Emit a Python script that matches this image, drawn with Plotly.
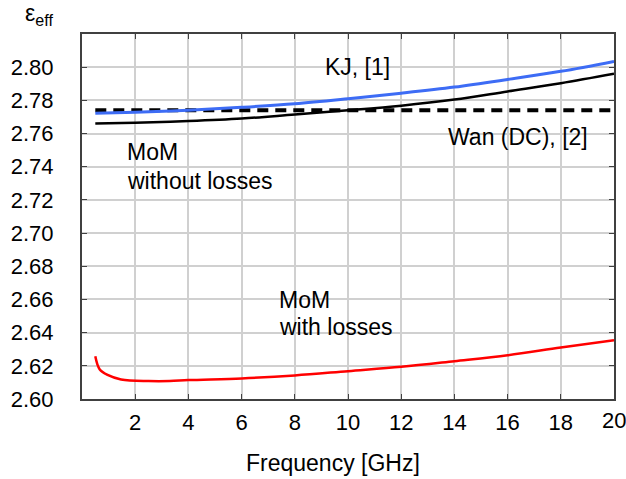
import plotly.graph_objects as go

freq_kj = [0.5, 2, 4, 6, 8, 10, 12, 14, 16, 18, 20]
eps_kj = [2.7722, 2.7728, 2.7740, 2.7758, 2.7780, 2.7810, 2.7843, 2.7880, 2.7926, 2.7975, 2.8035]

freq_mom = [0.5, 2, 4, 6, 8, 10, 12, 14, 16, 18, 20]
eps_mom = [2.7660, 2.7665, 2.7675, 2.7690, 2.7715, 2.7740, 2.7768, 2.7805, 2.7854, 2.7903, 2.7960]

freq_wan = [0.5, 20]
eps_wan = [2.7740, 2.7740]

freq_loss = [0.5, 0.66, 0.96, 1.47, 2.5, 3.3, 4, 6, 8, 10, 12, 14, 16, 18, 20]
eps_loss = [2.6257, 2.6180, 2.6145, 2.6118, 2.6108, 2.6108, 2.6114, 2.6124, 2.6142, 2.6168, 2.6194, 2.6228, 2.6264, 2.6310, 2.6354]

x_ticks = [2, 4, 6, 8, 10, 12, 14, 16, 18, 20]
y_ticks = [2.60, 2.62, 2.64, 2.66, 2.68, 2.70, 2.72, 2.74, 2.76, 2.78, 2.80]

FONT = "Liberation Sans, Arial, sans-serif"

fig = go.Figure()
fig.add_trace(go.Scatter(x=freq_wan, y=eps_wan, mode="lines",
                         line=dict(color="black", width=4, dash="11px,7px")))
fig.add_trace(go.Scatter(x=freq_mom, y=eps_mom, mode="lines", line_shape="spline",
                         line=dict(color="black", width=2.5)))
fig.add_trace(go.Scatter(x=freq_kj, y=eps_kj, mode="lines", line_shape="spline",
                         line=dict(color="#3d6cf5", width=3)))
fig.add_trace(go.Scatter(x=freq_loss, y=eps_loss, mode="lines", line_shape="spline",
                         line=dict(color="#ff0000", width=2.5)))

tick_font = dict(family=FONT, size=22, color="black")
axis_common = dict(showline=True, linecolor="#404040", linewidth=2, mirror="ticks",
                   ticks="inside", ticklen=5, tickcolor="#404040", automargin=False,
                   showgrid=True, gridcolor="#d0d0d0", gridwidth=1.5, zeroline=False,
                   tickfont=tick_font)

# the last x label (at the right edge) is drawn as an annotation so it is not clipped
x_text = [str(v) for v in x_ticks[:-1]] + [""]
fig.update_xaxes(range=[0, 20], tickvals=x_ticks, ticktext=x_text,
                 ticklabelstandoff=3, **axis_common)
fig.update_yaxes(range=[2.60, 2.82], tickvals=y_ticks, ticktext=[f"{v:.2f}" for v in y_ticks],
                 ticklabelstandoff=22, **axis_common)

ann_font = dict(family=FONT, size=23, color="black")
annotations = [
    dict(x=357, y=67, text="KJ, [1]", xanchor="center", yanchor="middle"),
    dict(x=518, y=137, text="Wan (DC), [2]", xanchor="center", yanchor="middle"),
    dict(x=125, y=152, text="MoM", xanchor="left", yanchor="middle"),
    dict(x=125, y=181, text="without losses", xanchor="left", yanchor="middle"),
    dict(x=277, y=300, text="MoM", xanchor="left", yanchor="middle"),
    dict(x=277, y=327, text="with losses", xanchor="left", yanchor="middle"),
    dict(x=333, y=463, text="Frequency [GHz]", xanchor="center", yanchor="middle"),
    dict(x=23, y=14, text="ε<sub>eff</sub>", xanchor="left", yanchor="middle"),
]
W, H = 626, 479
ml, mr, mt, mb = 82, 12, 34, 80
anns = []
for a in annotations:
    px, py = a.pop("x"), a.pop("y")
    anns.append(dict(xref="paper", yref="paper",
                     x=(px - ml) / (W - ml - mr), y=1 - (py - mt) / (H - mt - mb),
                     showarrow=False, font=ann_font, **a))
anns.append(dict(xref="x", yref="paper", x=x_ticks[-1], y=0, yshift=-7,
                 text=str(x_ticks[-1]), xanchor="center", yanchor="top",
                 showarrow=False, font=tick_font))

fig.update_layout(width=W, height=H, margin=dict(l=ml, r=mr, t=mt, b=mb),
                  paper_bgcolor="white", plot_bgcolor="white", showlegend=False,
                  annotations=anns)

fig.write_html("out.html")
